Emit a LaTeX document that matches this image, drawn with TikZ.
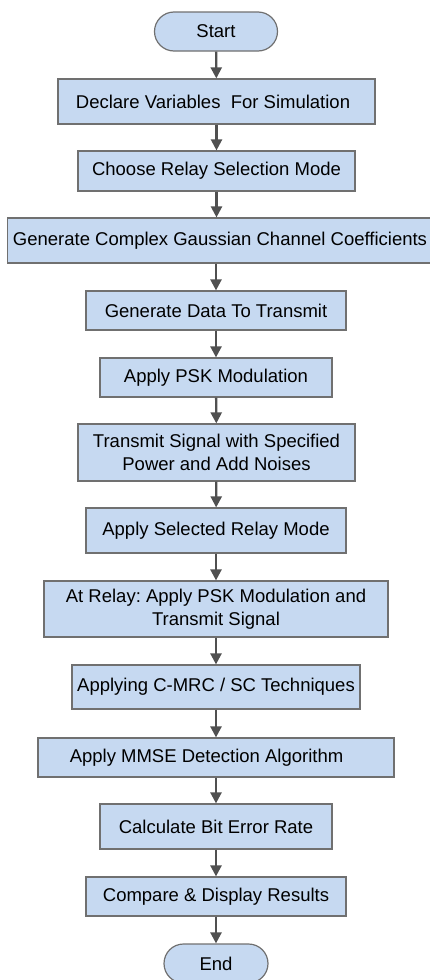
\documentclass[tikz,border=0pt]{standalone}
\usepackage{fontspec}
\setmainfont{Liberation Sans}
\usepackage{xcolor}
\usepackage{tikz}
\usetikzlibrary{arrows.meta}
\usetikzlibrary{shapes.misc}
\definecolor{boxfill}{HTML}{C6D9F1}
\definecolor{boxline}{HTML}{707070}
\definecolor{flowline}{HTML}{505050}
\frenchspacing

\begin{document}
\begin{tikzpicture}[x=1pt, y=-1pt, >={Triangle[width=11pt,length=11pt]},
  box/.style={draw=boxline, line width=1.2pt, fill=boxfill, inner sep=0pt, align=center,
    font=\fontsize{18.5}{22.5}\selectfont},
  term/.style={box, rounded rectangle},
  flow/.style={->, line width=2.3pt, draw=flowline, fill=flowline}]
  \useasboundingbox (0,0) rectangle (430,980);
  %--- Start / End
    \node[term, minimum width=123pt, minimum height=39pt] (start) at (216,31.5) {Start};
    \node[term, minimum width=104pt, minimum height=39pt] (end) at (216,963.5) {End};
  %--- Setup
    \node[box, minimum width=317pt, minimum height=45pt] (declare) at (216.5,101.5) {Declare Variables\ \ For Simulation\hspace*{7pt}};
    \node[box, minimum width=277pt, minimum height=40pt] (mode) at (216.5,171) {Choose Relay Selection Mode};
    \node[box, minimum width=425pt, minimum height=45pt] (channel) at (220,240.5) {Generate Complex Gaussian Channel Coefficients};
    \node[box, minimum width=260pt, minimum height=39pt] (data) at (216,310.5) {Generate Data To Transmit};
    \node[box, minimum width=232pt, minimum height=39pt] (psk) at (216,377.5) {Apply PSK Modulation};
  %--- Transmission and relaying
    \node[box, minimum width=277pt, minimum height=57pt] (transmit) at (216.5,452.5) {Transmit Signal with Specified\\Power and Add Noises};
    \node[box, minimum width=260pt, minimum height=45pt] (relaymode) at (216,530.5) {Apply Selected Relay Mode};
    \node[box, minimum width=344pt, minimum height=56pt] (relay) at (216,609) {At Relay: Apply PSK Modulation and\\Transmit Signal};
    \node[box, minimum width=288pt, minimum height=44pt] (combine) at (216,687) {Applying C-MRC / SC Techniques};
  %--- Detection and results
    \node[box, minimum width=356pt, minimum height=39pt] (mmse) at (216,757.5) {Apply MMSE Detection Algorithm\hspace*{19pt}};
    \node[box, minimum width=232pt, minimum height=45pt] (ber) at (216,826.5) {Calculate Bit Error Rate};
    \node[box, minimum width=260pt, minimum height=39pt] (compare) at (216,896.5) {Compare \& Display Results};
  %--- Arrows
    \draw[flow] (start) -- (declare);
    \draw[flow] (declare) -- (mode);
    \draw[flow] (mode) -- (mode |- channel.north);
    \draw[flow] (channel.south -| data) -- (data);
    \draw[flow] (data) -- (psk);
    \draw[flow] (psk) -- (transmit);
    \draw[flow] (transmit) -- (relaymode);
    \draw[flow] (relaymode) -- (relay);
    \draw[flow] (relay) -- (combine);
    \draw[flow] (combine) -- (mmse);
    \draw[flow] (mmse) -- (ber);
    \draw[flow] (ber) -- (compare);
    \draw[flow] (compare) -- (end);
\end{tikzpicture}
\end{document}
